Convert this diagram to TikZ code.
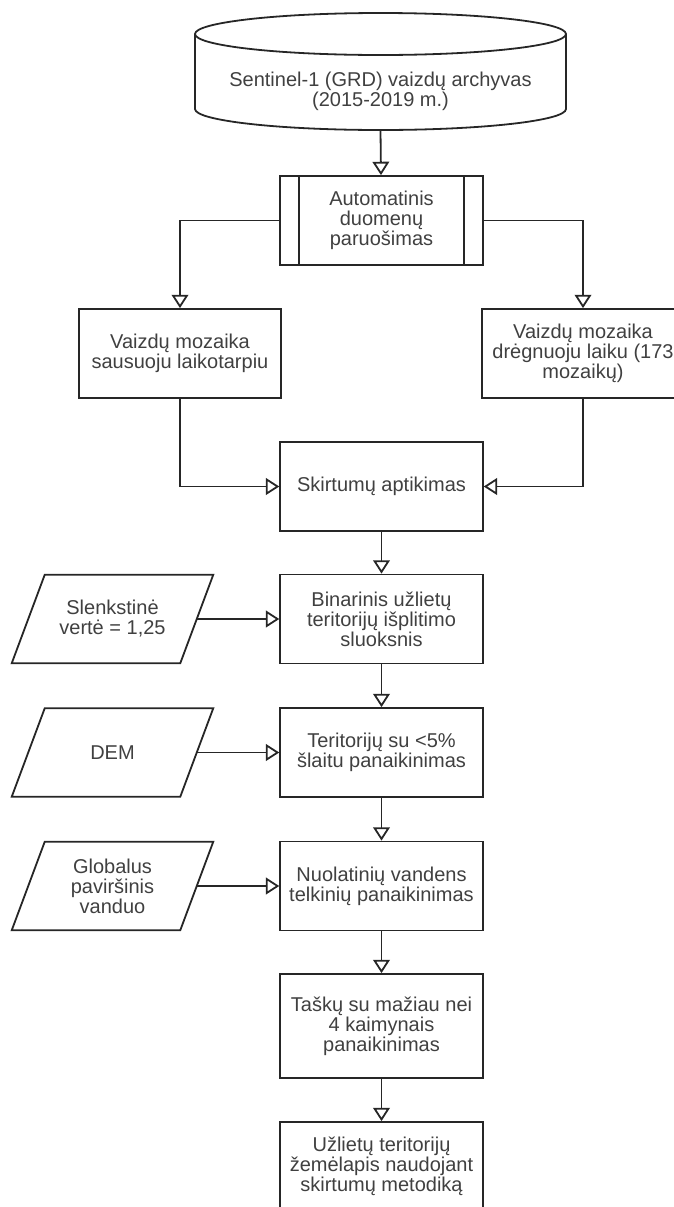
\documentclass[tikz,border=0pt]{standalone}
\usepackage{fontspec}
\setmainfont{Liberation Sans}
\usetikzlibrary{arrows.meta}
\tikzset{
  line/.style={line width=1.35pt, draw=black!85},
  txt/.style={align=center, text=black!75, font=\fontsize{15}{15}\selectfont, inner sep=0pt},
  box/.style={line, txt, rectangle, minimum width=152pt, minimum height=66.75pt},
  inbox/.style={txt, rectangle, minimum width=150.75pt, minimum height=66pt},
  arr/.style={line, -{Triangle[open, width=12.5pt, length=10pt]}}
}
\begin{document}
\begin{tikzpicture}[x=0.75pt,y=0.75pt]
            \clip (0,0) rectangle (674,-1207);

            \draw[line] (195,-34) -- (195,-109) arc[start angle=180, end angle=360, x radius=185.5, y radius=21] -- (566,-34);
            \draw[line] (380.5,-34) ellipse[x radius=185.5, y radius=21];
            \node[txt, font=\fontsize{15}{13.5}\selectfont] (archyvas) at (380.5,-91) {Sentinel-1 (GRD) vaizdų archyvas\\(2015-2019 m.)};
            \coordinate (archyvas-s) at (380.5,-130);

            \node[box] (paruosimas) at (381.5,-220.5) {Automatinis\\duomenų\\paruošimas};
            \draw[line] ([xshift=15pt]paruosimas.north west) -- ([xshift=15pt]paruosimas.south west);
            \draw[line] ([xshift=-15pt]paruosimas.north east) -- ([xshift=-15pt]paruosimas.south east);

            \node[box] (sausas) at (180,-353.5) {Vaizdų mozaika\\sausuoju laikotarpiu};
            \node[box] (dregnas) at (583,-353.5) {Vaizdų mozaika\\drėgnuoju laiku (173\\mozaikų)};
            \node[box] (skirtumai) at (381.5,-486.5) {Skirtumų aptikimas};

            \node[box] (binarinis) at (381.5,-619) {Binarinis užlietų\\teritorijų išplitimo\\sluoksnis};
            \node[box] (slaitas) at (381.5,-752.5) {Teritorijų su <5\%\\šlaitu panaikinimas};
            \node[box] (vanduo) at (381.5,-886) {Nuolatinių vandens\\telkinių panaikinimas};
            \node[box, minimum height=78pt] (taskai) at (381.5,-1026) {Taškų su mažiau nei\\4 kaimynais\\panaikinimas};
            \node[box] (zemelapis) at (381.5,-1166.5) {Užlietų teritorijų\\žemėlapis naudojant\\skirtumų metodiką};

            \node[inbox] (slenkstis) at (112.5,-619) {Slenkstinė\\vertė = 1,25};
            \node[inbox] (dem) at (112.5,-752.5) {DEM};
            \node[inbox] (globalus) at (112.5,-886) {Globalus\\paviršinis\\vanduo};
            \foreach \n in {slenkstis,dem,globalus} {
                \draw[line] ([xshift=24.75pt]\n.north west) -- (\n.north east) -- ([xshift=-24.75pt]\n.south east) -- (\n.south west) -- cycle;
                \coordinate (\n-e) at ([xshift=-12.4pt]\n.east);
            }

            \draw[arr] (archyvas-s) -- (paruosimas);
            \draw[arr] (paruosimas.west) -| (sausas.north);
            \draw[arr] (paruosimas.east) -| (dregnas.north);
            \draw[arr] (sausas.south) |- (skirtumai.west);
            \draw[arr] (dregnas.south) |- (skirtumai.east);
            \draw[arr] (skirtumai) -- (binarinis);
            \draw[arr] (binarinis) -- (slaitas);
            \draw[arr] (slaitas) -- (vanduo);
            \draw[arr] (vanduo) -- (taskai);
            \draw[arr] (taskai) -- (zemelapis);

            \draw[arr] (slenkstis-e) -- (binarinis.west);
            \draw[arr] (dem-e) -- (slaitas.west);
            \draw[arr] (globalus-e) -- (vanduo.west);
        \end{tikzpicture}
\end{document}
